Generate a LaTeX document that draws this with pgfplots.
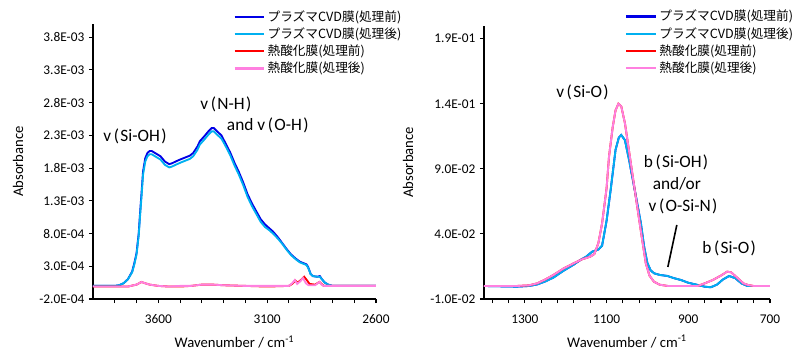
\documentclass[border=0pt]{standalone}
\usepackage{fontspec}
\setmainfont{Carlito}
\newfontfamily\jp{Noto Sans CJK JP}
\usepackage{pgfplots}
\pgfplotsset{compat=1.18}
\definecolor{cvdA}{RGB}{0,0,230}
\definecolor{cvdB}{RGB}{0,176,240}
\definecolor{thA}{RGB}{255,0,0}
\definecolor{thB}{RGB}{255,128,224}
\newcommand{\jl}{\hspace{2pt}(\hspace{1pt}}
\newcommand{\jr}{\hspace{1pt})}
\tikzset{annot/.style={font=\fontsize{13}{15}\selectfont}}
\pgfplotsset{myax/.style={
 scale only axis, axis x line*=bottom, axis y line*=left,
 axis line style={line width=1.5pt, black},
 x dir=reverse, tick align=outside, major tick length=3pt, minor tick length=3pt,
 every tick/.style={black, line width=0.8pt},
 tick label style={font=\fontsize{10}{12}\selectfont},
 xticklabel style={yshift=-5pt},
 scaled y ticks=false, scaled x ticks=false,
 xlabel={Wavenumber / cm\textsuperscript{-1}},
 ylabel={Absorbance},
 every axis x label/.style={at={(axis description cs:0.5,-0.156)},anchor=center,font=\fontsize{11}{13}\selectfont},
 every axis y label/.style={at={(axis description cs:-0.265,0.5)},rotate=90,anchor=center,font=\fontsize{11}{13}\selectfont},
 clip=false,
 legend style={draw=none, fill=none, font=\jp\fontsize{9.5}{11}\selectfont, anchor=north east, legend cell align=left, row sep=-0.7pt},
 legend image code/.code={\draw[#1,line width=1.7pt] (0pt,0pt) -- (22pt,0pt);},
 every axis plot/.append style={line width=1.4pt, mark=none},
}}
\begin{document}
\begin{tikzpicture}
\useasboundingbox (-69.75pt,-39pt) rectangle (525.75pt,224.25pt);
\begin{axis}[myax, at={(0pt,0pt)}, anchor=south west, width=212.25pt, height=206.25pt,
 xmin=2600, xmax=3900, ymin=-0.0002, ymax=0.004,
 xtick={2600,3100,3600}, xticklabels={2600,3100,3600},
 minor xtick={2700,2800,2900,3000,3200,3300,3400,3500,3700,3800},
 ytick={-0.0002,0.0003,0.0008,0.0013,0.0018,0.0023,0.0028,0.0033,0.0038},
 yticklabels={-2.0E-04,3.0E-04,8.0E-04,1.3E-03,1.8E-03,2.3E-03,2.8E-03,3.3E-03,3.8E-03},
 legend style={at={(1.114,1.069)}}]
\addplot[color=cvdA] coordinates {(3900,0) (3800,0) (3780,0.00001) (3760,0.00004) (3740,0.0001) (3720,0.00022) (3710,0.00035) (3700,0.0005) (3690,0.0008) (3684,0.0011) (3677,0.00142) (3670,0.00175) (3660,0.00195) (3650,0.00203) (3640,0.00206) (3630,0.00206) (3610,0.00202) (3590,0.00198) (3570,0.0019) (3550,0.00186) (3539,0.00187) (3520,0.0019) (3500,0.00193) (3470,0.00197) (3455,0.00199) (3440,0.00203) (3420,0.00213) (3409,0.00221) (3390,0.00228) (3370,0.00236) (3355,0.00241) (3345,0.00241) (3330,0.00236) (3310,0.0023) (3290,0.00217) (3270,0.00204) (3250,0.00188) (3230,0.00174) (3210,0.00158) (3190,0.0014) (3170,0.00126) (3150,0.00114) (3130,0.00102) (3110,0.00094) (3090,0.00088) (3073,0.00083) (3050,0.00074) (3030,0.00065) (3010,0.00056) (2990,0.00048) (2970,0.00042) (2950,0.00037) (2935,0.00035) (2920,0.00033) (2912,0.00029) (2900,0.00018) (2890,0.00015) (2870,0.00014) (2858,0.00015) (2848,0.0001) (2835,0.00005) (2820,0.00002) (2800,0) (2600,0)};
\addlegendentry{プラズマCVD膜(処理前)}
\addplot[color=cvdB] coordinates {(3900,0) (3800,0) (3780,0.00001) (3760,0.00004) (3740,0.0001) (3720,0.00021) (3710,0.00033) (3700,0.00048) (3690,0.00077) (3684,0.00106) (3677,0.00137) (3670,0.0017) (3660,0.0019) (3650,0.00198) (3640,0.00201) (3630,0.00201) (3610,0.00197) (3590,0.00193) (3570,0.00185) (3550,0.00181) (3539,0.00182) (3520,0.00185) (3500,0.00188) (3470,0.00192) (3455,0.00194) (3440,0.00198) (3420,0.00208) (3409,0.00216) (3390,0.00223) (3370,0.00231) (3355,0.00236) (3345,0.00236) (3330,0.00231) (3310,0.00225) (3290,0.00213) (3270,0.002) (3250,0.00184) (3230,0.0017) (3210,0.00154) (3190,0.00136) (3170,0.00122) (3150,0.0011) (3130,0.00098) (3110,0.0009) (3090,0.00085) (3073,0.0008) (3050,0.00072) (3030,0.00064) (3010,0.00055) (2990,0.00047) (2970,0.00041) (2950,0.00036) (2935,0.00034) (2920,0.00032) (2912,0.00028) (2900,0.00018) (2890,0.00015) (2870,0.00014) (2858,0.00014) (2848,0.0001) (2835,0.00005) (2820,0.00002) (2800,0) (2600,0)};
\addlegendentry{プラズマCVD膜(処理後)}
\addplot[color=thA] coordinates {(3900,-0.00001) (3800,-0.00001) (3740,-0.00001) (3700,0.00002) (3677,0.00006) (3660,0.00004) (3640,0.00002) (3600,0) (3550,-0.00001) (3500,-0.00001) (3450,0) (3400,0.00002) (3350,0.00002) (3300,0.00001) (3200,0) (3100,-0.00001) (3000,0) (2985,0.00003) (2970,0.00008) (2960,0.00005) (2945,0.00009) (2930,0.00014) (2918,0.00009) (2905,0.00003) (2880,0.00002) (2860,0.00006) (2850,0.00003) (2840,0) (2700,0) (2600,0)};
\addlegendentry{熱酸化膜(処理前)}
\addplot[color=thB] coordinates {(3900,-0.00001) (3800,-0.00001) (3740,-0.00001) (3700,0.00002) (3677,0.00006) (3660,0.00004) (3640,0.00002) (3600,0) (3550,-0.00001) (3500,0) (3450,0) (3400,0.00002) (3350,0.00002) (3300,0.00001) (3200,0) (3100,0) (3000,0) (2985,0.00004) (2973,0.00009) (2962,0.00003) (2948,0.00007) (2935,0.00012) (2922,0.00004) (2910,0.00001) (2880,0.00001) (2860,0.00006) (2850,0.00002) (2840,0) (2700,0) (2600,0)};
\addlegendentry{熱酸化膜(処理後)}
\node[annot] at (axis cs:3707,0.00228) {v\jl Si-OH\jr};
\node[annot] at (axis cs:3290,0.00277) {v\jl N-H\jr};
\node[annot] at (axis cs:3097,0.00245) {and v\jl O-H\jr};
\end{axis}
\begin{axis}[myax, at={(293.25pt,0pt)}, anchor=south west, width=214.5pt, height=205pt,
 xmin=700, xmax=1400, ymin=-0.01, ymax=0.2,
 xtick={700,900,1100,1300}, xticklabels={700,900,1100,1300},
 minor xtick={740,780,820,860,940,980,1020,1060,1140,1180,1220,1260,1340,1380},
 ytick={-0.01,0.04,0.09,0.14,0.19},
 yticklabels={-1.0E-02,4.0E-02,9.0E-02,1.4E-01,1.9E-01},
 legend style={at={(1.105,1.077)}}]
\addplot[color=cvdA] coordinates {(1400,0) (1320,-0.0005) (1290,0) (1270,0.0012) (1250,0.0035) (1230,0.0065) (1205,0.0118) (1180,0.0165) (1164,0.02) (1150,0.0225) (1135,0.0264) (1120,0.028) (1111,0.031) (1100,0.05) (1090,0.0738) (1078,0.1046) (1070,0.114) (1064,0.116) (1055,0.112) (1045,0.097) (1030,0.072) (1016,0.0482) (1008,0.03) (1000,0.0175) (992,0.012) (984,0.0098) (970,0.0085) (951,0.0077) (935,0.006) (918,0.0046) (900,0.0025) (877,0.0008) (860,-0.0005) (845,-0.001) (830,0.001) (815,0.005) (800,0.0077) (785,0.006) (770,0.002) (755,0) (700,0)};
\addlegendentry{プラズマCVD膜(処理前)}
\addplot[color=cvdB] coordinates {(1400,0) (1320,-0.0005) (1290,0) (1270,0.0012) (1250,0.0035) (1230,0.0065) (1205,0.0118) (1180,0.0165) (1164,0.02) (1150,0.0225) (1135,0.0264) (1120,0.028) (1111,0.031) (1100,0.05) (1090,0.0738) (1078,0.1046) (1070,0.114) (1064,0.116) (1055,0.112) (1045,0.097) (1030,0.072) (1016,0.0482) (1008,0.03) (1000,0.0175) (992,0.012) (984,0.0098) (970,0.0085) (951,0.0077) (935,0.006) (918,0.0046) (900,0.0025) (877,0.0008) (860,-0.0005) (845,-0.001) (830,0.001) (815,0.005) (800,0.0077) (785,0.006) (770,0.002) (755,0) (700,0)};
\addlegendentry{プラズマCVD膜(処理後)}
\addplot[color=thA] coordinates {(1400,0) (1320,0) (1290,0.0005) (1270,0.002) (1250,0.005) (1230,0.0085) (1205,0.0135) (1180,0.0175) (1160,0.0205) (1140,0.0225) (1130,0.0245) (1120,0.033) (1111,0.048) (1100,0.075) (1094,0.0994) (1085,0.122) (1078,0.135) (1071,0.14) (1064,0.138) (1055,0.125) (1049,0.1123) (1040,0.093) (1025,0.061) (1015,0.04) (1004,0.0175) (995,0.008) (984,0.0033) (970,0.001) (950,0) (900,0) (877,0) (860,0.002) (840,0.0046) (820,0.008) (805,0.011) (795,0.0105) (779,0.006) (765,0.002) (754,0.0008) (740,0) (700,0)};
\addlegendentry{熱酸化膜(処理前)}
\addplot[color=thB] coordinates {(1400,0) (1320,0) (1290,0.0005) (1270,0.002) (1250,0.005) (1230,0.0085) (1205,0.0135) (1180,0.0175) (1160,0.0205) (1140,0.0225) (1130,0.0245) (1120,0.033) (1111,0.048) (1100,0.075) (1094,0.0994) (1085,0.122) (1078,0.135) (1071,0.14) (1064,0.138) (1055,0.125) (1049,0.1123) (1040,0.093) (1025,0.061) (1015,0.04) (1004,0.0175) (995,0.008) (984,0.0033) (970,0.001) (950,0) (900,0) (877,0) (860,0.002) (840,0.0046) (820,0.008) (805,0.011) (795,0.0105) (779,0.006) (765,0.002) (754,0.0008) (740,0) (700,0)};
\addlegendentry{熱酸化膜(処理後)}
\node[annot] at (axis cs:1159,0.1484) {v\jl Si-O\jr};
\node[annot] at (axis cs:930,0.0946) {b\jl Si-OH\jr};
\node[annot] at (axis cs:928,0.0784) {and/or};
\node[annot] at (axis cs:913,0.0615) {v\jl O-Si-N\jr};
\draw[line width=1.2pt] (axis cs:928,0.0469) -- (axis cs:950,0.0146);
\node[annot] at (axis cs:800,0.0292) {b\jl Si-O\jr};
\end{axis}
\end{tikzpicture}
\end{document}
